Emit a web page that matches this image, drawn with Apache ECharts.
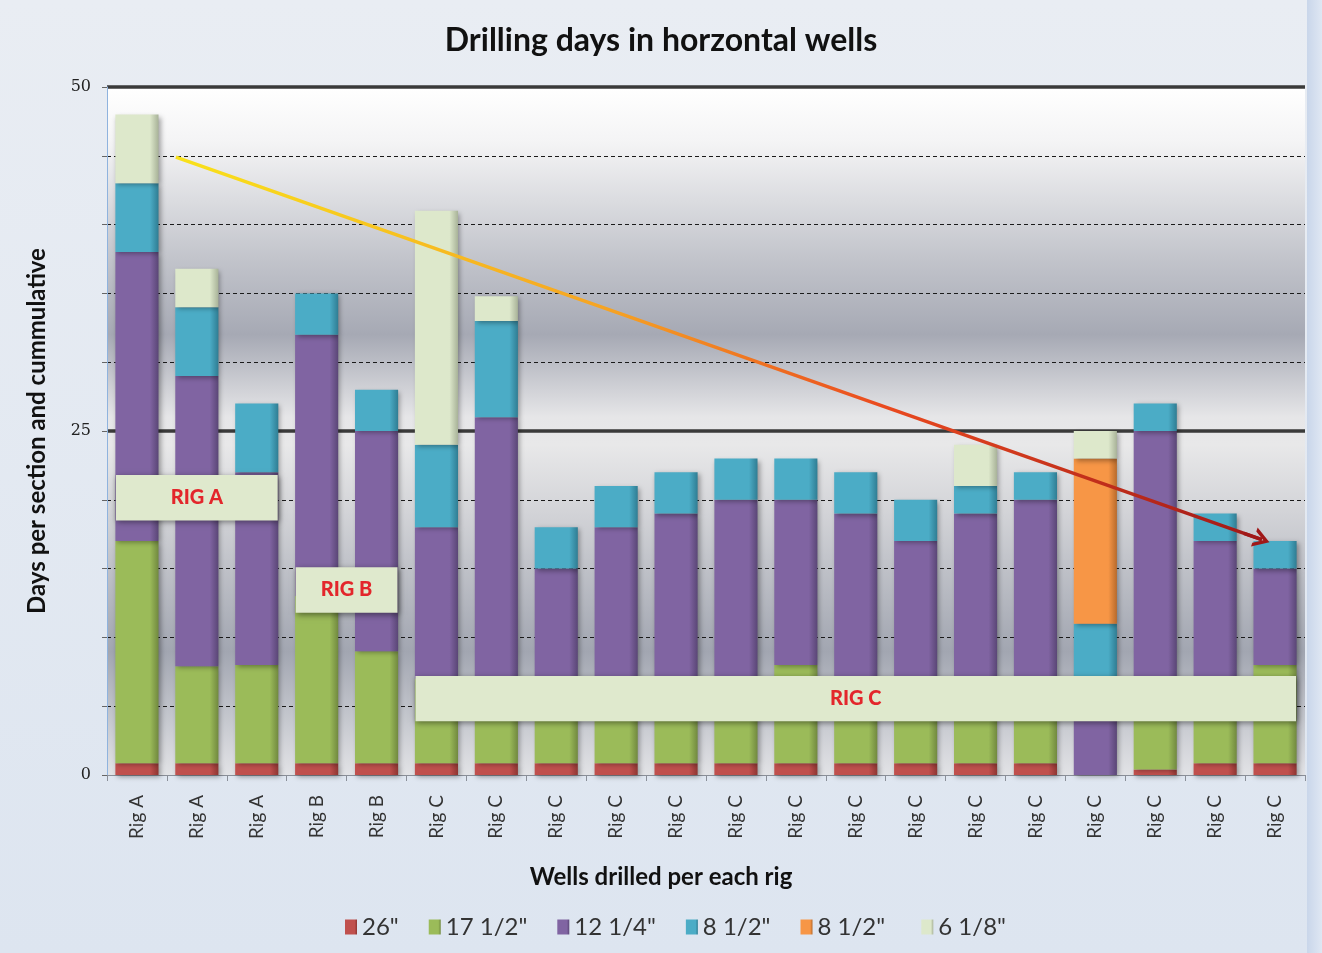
<!DOCTYPE html>
<html>
<head>
<meta charset="utf-8">
<script src="https://cdn.jsdelivr.net/npm/echarts@6/dist/echarts.min.js"></script>
<style>
html,body{margin:0;padding:0;background:#ffffff;}
#chart{width:1322px;height:953px;}
</style>
</head>
<body>
<div id="chart"></div>
<script>
// ---- data ----
const categories = ['Rig A','Rig A','Rig A','Rig B','Rig B','Rig C','Rig C','Rig C','Rig C','Rig C','Rig C','Rig C','Rig C','Rig C','Rig C','Rig C','Rig C','Rig C','Rig C','Rig C'];
const s26   = [0.85,0.85,0.85,0.85,0.85,0.85,0.85,0.85,0.85,0.85,0.85,0.85,0.85,0.85,0.85,0.85,0,0.4,0.85,0.85];
const s17   = [16.15,7.05,7.15,12.15,8.15,6.15,6.15,6.15,6.15,6.15,6.15,7.15,6.15,6.15,6.15,6.15,0,6.6,6.15,7.15];
const s12   = [21,21.1,14,19,16,11,19,8,11,12,13,12,12,10,12,13,7,18,10,7];
const s8a   = [5,5,5,3,3,6,7,3,3,3,3,3,3,3,2,2,4,2,2,2];
const s8b   = [0,0,0,0,0,0,0,0,0,0,0,0,0,0,0,0,12,0,0,0];
const s6    = [5,2.8,0,0,0,17,1.8,0,0,0,0,0,0,0,3,0,2,0,0,0];
const seriesNames = ['26"', '17 1/2"', '12 1/4"', '8 1/2"', '8 1/2" ', '6 1/8"'];
const yTickLabels = ['0','25','50'];
const trendStart = [0.65, 44.9];
const trendEnd   = [18.78, 17.1];
// rig annotation boxes: which rig and the day range they cover
const rigBoxes = [
  {rig:'Rig A', text:'RIG A', y:[18.5, 21.8]},
  {rig:'Rig B', text:'RIG B', y:[11.8, 15.1]},
  {rig:'Rig C', text:'RIG C', y:[3.9, 7.2]}
];

// ---- styling ----
const FONT = 'Lato';
const baseColors = ['#c0504d','#9bbb59','#8064a2','#4bacc6','#f79646','#dde8cb'];
const darkColors = ['#8e3532','#71893f','#5a4676','#2f7d93','#b86a2b','#a8b298'];
function barColor(i){
  return {type:'linear',x:0,y:0,x2:1,y2:0,colorStops:[
    {offset:0,color:baseColors[i]},{offset:0.8,color:baseColors[i]},{offset:1,color:darkColors[i]}]};
}
const dataSets = [s26,s17,s12,s8a,s8b,s6];
const barSeries = dataSets.map((d,i)=>({
  name: seriesNames[i],
  type:'bar',
  stack:'total',
  barWidth:'72%',
  data: d.map(v=> v===0 ? null : v),
  itemStyle:{
    color: barColor(i),
    shadowColor:'rgba(0,0,0,0.35)', shadowBlur:5, shadowOffsetX:2, shadowOffsetY:2
  },
  emphasis:{disabled:true},
  z:3
}));

function boxRange(rig){
  const first = categories.indexOf(rig);
  const last = categories.lastIndexOf(rig);
  return [first-0.35, last+0.35];
}
const markAreaData = rigBoxes.map(b=>{
  const xr = boxRange(b.rig);
  return [{name:b.text, coord:[xr[0], b.y[1]]},{coord:[xr[1], b.y[0]]}];
});

const slope = (trendStart[1]-trendEnd[1])/(trendEnd[0]-trendStart[0]);
const trendSeries = {
  type:'line',
  name:'trend',
  xAxisIndex:1, yAxisIndex:0,
  data:[trendStart, trendEnd],
  symbol:'none',
  silent:true,
  z:6,
  lineStyle:{width:3.5,color:{type:'linear',x:0,y:0,x2:1,y2:0,colorStops:[
    {offset:0,color:'#f9e21a'},{offset:0.4,color:'#f6a323'},{offset:0.65,color:'#ea4a1f'},{offset:1,color:'#a01818'}]}},
  markArea:{
    silent:true,
    z:10,
    itemStyle:{color:'#dfe9cd', shadowColor:'rgba(0,0,0,0.45)', shadowBlur:6, shadowOffsetX:1, shadowOffsetY:2},
    label:{show:true, position:'inside', color:'#e3262b', fontWeight:900, fontSize:20, fontFamily:FONT},
    data: markAreaData
  },
  markLine:{
    silent:true,
    z:11,
    symbol:['none','path://M0,10 L5,0 L10,10 L8,10 L5,4 L2,10 Z'],
    symbolSize:[20,16],
    lineStyle:{color:'#a01818', width:3.5, type:'solid'},
    label:{show:false},
    data:[[{coord:[trendEnd[0] - 0.3, trendEnd[1] + 0.3*slope]},{coord:trendEnd}]]
  }
};

const chart = echarts.init(document.getElementById('chart'), null, {renderer:'canvas'});
chart.setOption({
  animation:false,
  backgroundColor:{type:'linear',x:0,y:0,x2:0,y2:1,colorStops:[{offset:0,color:'#e9edf3'},{offset:1,color:'#dde5f0'}]},
  graphic:[{
    type:'rect', right:0, top:0, z:-1, silent:true,
    shape:{width:15, height:953},
    style:{fill:{type:'linear',x:0,y:0,x2:1,y2:0,colorStops:[{offset:0,color:'#c9d6ea'},{offset:1,color:'#dfe7f3'}]}}
  }],
  title:[{
    text:'Drilling days in horzontal wells',
    left:'center', top:20,
    textStyle:{fontFamily:FONT, fontSize:32, fontWeight:'bold', color:'#111'}
  },{
    text:'Wells drilled per each rig',
    left:'center', top:860,
    textStyle:{fontFamily:FONT, fontSize:24, fontWeight:'bold', color:'#111'}
  }],
  legend:{
    data: seriesNames,
    top:910, left:340,
    icon:'rect', itemWidth:12, itemHeight:15, itemGap:30,
    textStyle:{fontFamily:FONT, fontSize:24, color:'#333'}
  },
  grid:{
    left:107, right:17, top:87, bottom:178,
    show:true, borderWidth:0,
    backgroundColor:{type:'linear',x:0,y:0,x2:0,y2:1,colorStops:[
      {offset:0,color:'#ffffff'},{offset:0.08,color:'#f4f4f5'},{offset:0.25,color:'#c2c4cb'},
      {offset:0.36,color:'#a6a9b4'},{offset:0.48,color:'#e6e6e8'},{offset:0.52,color:'#e8e8e9'},
      {offset:0.62,color:'#d2d3d7'},{offset:0.82,color:'#a2a6b1'},{offset:1,color:'#e2e3e6'}]}
  },
  xAxis:[{
    type:'category',
    data:categories,
    axisLine:{show:true, onZero:false, lineStyle:{color:'#8a8f98', width:1}},
    axisTick:{show:true, length:6, lineStyle:{color:'#8a8f98'}},
    axisLabel:{rotate:90, margin:20, fontFamily:FONT, fontSize:19, color:'#333'}
  },{
    type:'value', min:-0.5, max:categories.length-0.5, show:false,
    axisLine:{onZero:false}
  }],
  yAxis:[{
    type:'value', min:0, max:50, interval:5,
    axisLine:{show:true, onZero:false, lineStyle:{color:'#8fb3de', width:1}},
    axisTick:{show:true, length:5, lineStyle:{color:'#666'}},
    axisLabel:{margin:16, fontFamily:'DejaVu Serif', fontSize:16, color:'#222',
      formatter:v=> yTickLabels.indexOf(String(v))>=0 ? String(v) : ''},
    splitLine:{show:true, lineStyle:{color:'#1a1a1a', type:[4,3], width:1}},
    name:'Days per section and cummulative', nameLocation:'middle', nameGap:58,
    nameTextStyle:{fontFamily:FONT, fontSize:24, fontWeight:'bold', color:'#111'}
  },{
    type:'value', min:0, max:50, interval:25, position:'left',
    axisLine:{show:false, onZero:false}, axisTick:{show:false}, axisLabel:{show:false},
    splitLine:{show:true, showMinLine:false, lineStyle:{color:'#3a3a3a', width:3.5}}
  }],
  series: barSeries.concat([trendSeries])
});
</script>
</body>
</html>
